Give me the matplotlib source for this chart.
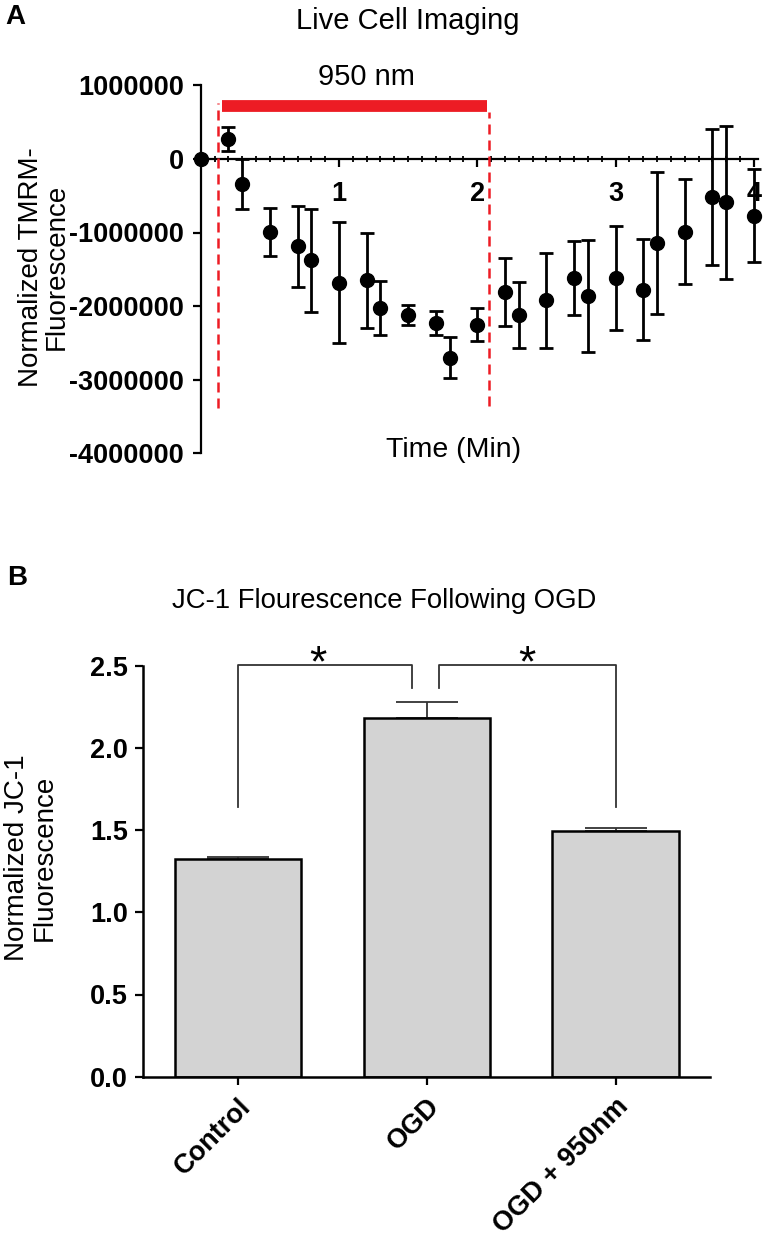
import matplotlib
matplotlib.use("Agg")
import matplotlib.pyplot as plt
import numpy as np
from matplotlib.ticker import MultipleLocator

plt.rcParams['font.family'] = ['Liberation Sans', 'DejaVu Sans']
plt.rcParams['axes.unicode_minus'] = False

# ---------------- data: panel A ----------------
time_min = [0, 0.2, 0.3, 0.5, 0.7, 0.8, 1.0, 1.2, 1.3, 1.5, 1.7, 1.8, 2.0,
            2.2, 2.3, 2.5, 2.7, 2.8, 3.0, 3.2, 3.3, 3.5, 3.7, 3.8, 4.0]
tmrm = [0, 270000, -340000, -990000, -1190000, -1380000, -1680000, -1650000,
        -2020000, -2120000, -2230000, -2700000, -2250000, -1810000, -2120000,
        -1920000, -1620000, -1860000, -1620000, -1780000, -1140000, -990000,
        -520000, -590000, -770000]
tmrm_err = [0, 163000, 345000, 323000, 547000, 706000, 820000, 650000,
            366000, 133000, 158000, 275000, 220000, 458000, 450000, 643000,
            506000, 757000, 711000, 685000, 964000, 716000, 924000, 1040000,
            633000]
laser_on = 0.123   # min (dashed line)
laser_off = 2.087  # min (dashed line)
yticks_a = [1000000, 0, -1000000, -2000000, -3000000, -4000000]
xticks_a = [1, 2, 3, 4]

# ---------------- data: panel B ----------------
groups = ["Control", "OGD", "OGD + 950nm"]
jc1 = [1.324, 2.18, 1.494]
jc1_err = [0.010, 0.10, 0.017]
yticks_b = [0.0, 0.5, 1.0, 1.5, 2.0, 2.5]

W, H = 765, 1237
fig = plt.figure(figsize=(W / 100, H / 100), dpi=100)


def rect(x0, y0, x1, y1):
    return [x0 / W, 1 - y1 / H, (x1 - x0) / W, (y1 - y0) / H]


def ftxt(x, y, s, **kw):
    fig.text(x / W, 1 - y / H, s, **kw)


RED = '#ED1C24'

# ================= Panel A =================
axA = fig.add_axes(rect(200.7, 85.3, 200.7 + 4.03 * 138.3, 453.3))
axA.set_xlim(0, 4.03)
axA.set_ylim(-4000000, 1000000)
for s in ['top', 'right']:
    axA.spines[s].set_visible(False)
axA.spines['bottom'].set_position(('data', 0))
axA.spines['left'].set_linewidth(1.6)
axA.spines['bottom'].set_linewidth(1.6)
axA.spines['bottom'].set_zorder(1)

axA.errorbar(time_min, tmrm, yerr=tmrm_err, fmt='o', color='black',
             markersize=10, elinewidth=2.0, capsize=5, capthick=2.0,
             clip_on=False, zorder=3)

axA.set_yticks(yticks_a)
axA.set_yticklabels([str(v) for v in yticks_a])
axA.set_xticks(xticks_a)
axA.set_xticklabels([str(v) for v in xticks_a])
axA.xaxis.set_minor_locator(MultipleLocator(0.1))
axA.tick_params(axis='y', which='major', length=6, width=1.6, pad=6,
                labelsize=19.5)
axA.tick_params(axis='x', which='major', length=6, width=1.6, pad=10,
                labelsize=19.5, direction='out')
axA.tick_params(axis='x', which='minor', length=4, width=1.3,
                direction='inout')
for lab in axA.get_xticklabels() + axA.get_yticklabels():
    lab.set_fontweight('bold')

# laser window
axA.plot([laser_on, laser_on], [-3378000, 755000], color=RED, lw=1.8,
         ls=(0, (4, 2.4)), clip_on=False, zorder=2)
axA.plot([laser_off, laser_off], [-3356000, 641000], color=RED, lw=1.8,
         ls=(0, (4, 2.4)), clip_on=False, zorder=2)
axA.plot([0.152, 2.068], [718000, 718000], color=RED, lw=8.5,
         solid_capstyle='butt', clip_on=False, zorder=2)
ftxt(366, 77, '950 nm', ha='center', va='center', fontsize=21)
ftxt(454, 450, 'Time (Min)', ha='center', va='center', fontsize=20.5)

ftxt(408, 21, 'Live Cell Imaging', ha='center', va='center', fontsize=21)
ftxt(15, 17, 'A', ha='center', va='center', fontsize=20, fontweight='bold')
ftxt(44, 267, 'Normalized TMRM-\nFluorescence', ha='center', va='center',
     rotation=90, fontsize=20, linespacing=1.0, multialignment='center')

# ================= Panel B =================
axB = fig.add_axes(rect(143.3, 665.7, 710, 1076.7))
x = np.arange(len(groups))
axB.bar(x, jc1, width=0.668, color='#D3D3D3', edgecolor='black',
        linewidth=1.8, zorder=2)
axB.errorbar(x, jc1, yerr=[np.zeros(len(jc1)), jc1_err], fmt='none',
             ecolor='#333333', elinewidth=1.3, capsize=22, capthick=1.3,
             zorder=1)
axB.set_xlim(-0.5, 2.5)
axB.set_ylim(0, 2.5)
for s in ['top', 'right']:
    axB.spines[s].set_visible(False)
axB.spines['left'].set_linewidth(1.8)
axB.spines['bottom'].set_linewidth(1.8)
axB.set_yticks(yticks_b)
axB.set_yticklabels([f'{v:.1f}' for v in yticks_b])
axB.set_xticks(x)
axB.set_xticklabels(groups, rotation=45, ha='right', rotation_mode='anchor')
axB.tick_params(axis='both', length=6, width=1.6, labelsize=19.5)
axB.tick_params(axis='y', pad=5)
axB.tick_params(axis='x', pad=6)
for lab in axB.get_xticklabels() + axB.get_yticklabels():
    lab.set_fontweight('bold')

# significance brackets
top = 2.503
for (xa, xb, ya, yb, xs) in [(0, 0.924, 1.642, 2.366, 0.425),
                             (1.066, 2.0, 2.366, 1.642, 1.53)]:
    axB.plot([xa, xa, xb, xb], [ya, top, top, yb], color='#333333', lw=1.3,
             clip_on=False, zorder=3)
    axB.text(xs, top + 0.005, '*', ha='center', va='center',
             fontsize=32, clip_on=False)

ftxt(384, 601, 'JC-1 Flourescence Following OGD', ha='center', va='center',
     fontsize=19.8)
ftxt(17, 578, 'B', ha='center', va='center', fontsize=20, fontweight='bold')
ftxt(31, 858, 'Normalized JC-1\nFluorescence', ha='center', va='center',
     rotation=90, fontsize=20, linespacing=1.05, multialignment='center')

fig.savefig('out.png', dpi=100)
